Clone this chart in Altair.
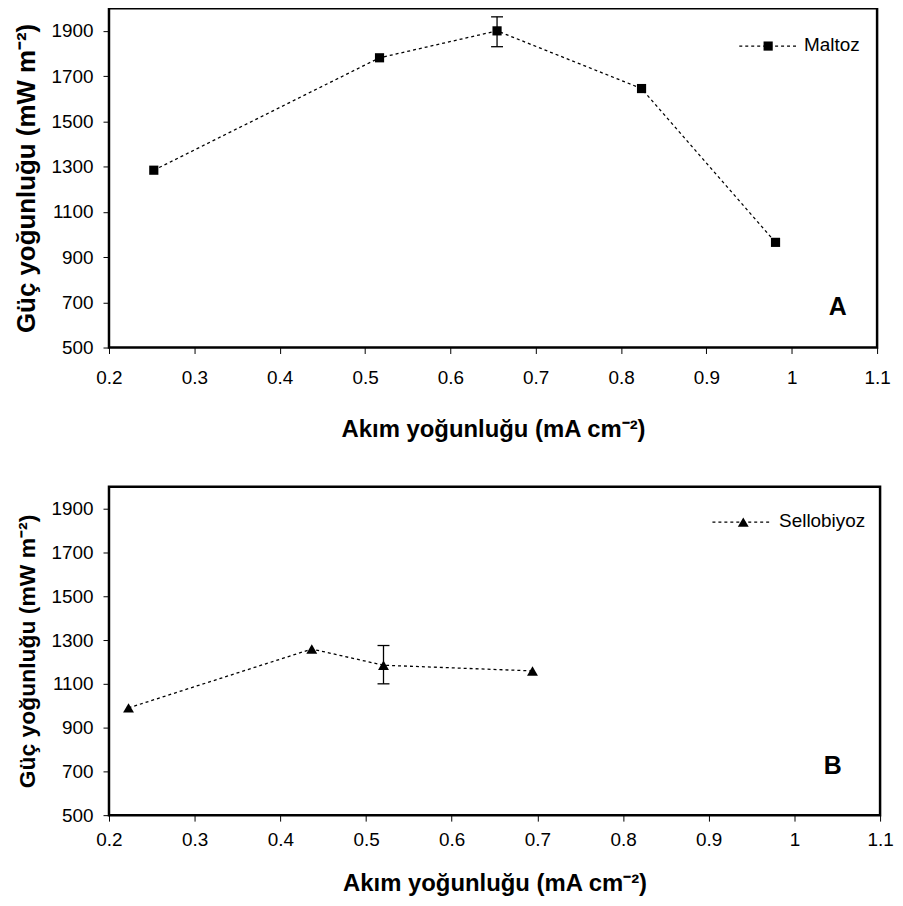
import altair as alt
import pandas as pd

# ---- data ----
maltoz_x = [0.2525, 0.517, 0.6547, 0.824, 0.981]
maltoz_y = [1284, 1781, 1900, 1645, 965]
maltoz_err_x = [0.6547]
maltoz_err_lo = [1830]
maltoz_err_hi = [1962]

sello_x = [0.2228, 0.4367, 0.5204, 0.6943]
sello_y = [990, 1259, 1185, 1159]
sello_err_x = [0.5204]
sello_err_lo = [1100]
sello_err_hi = [1275]

x_ticks = [0.2, 0.3, 0.4, 0.5, 0.6, 0.7, 0.8, 0.9, 1.0, 1.1]
y_ticks = [500, 700, 900, 1100, 1300, 1500, 1700, 1900]

x_title = "Akım yoğunluğu (mA cm⁻²)"
y_title = "Güç yoğunluğu (mW m⁻²)"

FONT = "Liberation Sans"


def panel(xs, ys, ex, elo, ehi, shape, msize, name, label, width, height,
          xlabpad, xtitlepad, ytitlesize, leg, lab):
    df = pd.DataFrame({"x": xs, "y": ys})
    err = pd.DataFrame({"x": ex, "y": elo, "y2": ehi})
    caps = pd.DataFrame({"x": ex + ex, "y": elo + ehi})
    xs_ = alt.Scale(domain=[0.2, 1.1], nice=False, zero=False)
    ys_ = alt.Scale(domain=[500, 2000], nice=False, zero=False)
    xax = alt.Axis(values=x_ticks, format="~g", title=x_title, grid=False,
                   domain=False, tickColor="black", tickSize=6, tickWidth=1,
                   labelFont=FONT, labelFontSize=19, labelColor="black",
                   labelPadding=xlabpad, titleFont=FONT, titleFontSize=24,
                   titleFontWeight="bold", titleColor="black",
                   titlePadding=xtitlepad, labelFlush=False)
    yax = alt.Axis(values=y_ticks, format="d", title=y_title, grid=False,
                   domain=False, tickColor="black", tickSize=6, tickWidth=1,
                   labelFont=FONT, labelFontSize=19, labelColor="black",
                   labelPadding=10, titleFont=FONT, titleFontSize=ytitlesize,
                   titleFontWeight="bold", titleColor="black",
                   titlePadding=12, labelFlush=False)
    X = alt.X("x:Q", scale=xs_, axis=xax)
    Y = alt.Y("y:Q", scale=ys_, axis=yax)
    line = alt.Chart(df).mark_line(color="black", strokeDash=[3, 3],
                                   strokeWidth=1.3).encode(x=X, y=Y)
    pts = alt.Chart(df).mark_point(shape=shape, filled=True, color="black",
                                   size=msize, opacity=1).encode(x="x:Q", y="y:Q")
    rule = alt.Chart(err).mark_rule(color="black", strokeWidth=1.3).encode(
        x="x:Q", y="y:Q", y2="y2:Q")
    cap = alt.Chart(caps).mark_tick(orient="horizontal", size=12, thickness=1.3,
                                    color="black", opacity=1).encode(x="x:Q", y="y:Q")
    one = pd.DataFrame({"k": [0]})
    lx0, lx1, lmx, ltx, ly, lty = leg
    legline = alt.Chart(one).mark_rule(color="black", strokeDash=[3, 3],
                                       strokeWidth=1.3).encode(
        x=alt.value(lx0), x2=alt.value(lx1), y=alt.value(ly))
    legpt = alt.Chart(one).mark_point(shape=shape, filled=True, color="black",
                                      size=msize, opacity=1).encode(
        x=alt.value(lmx), y=alt.value(ly))
    legtxt = alt.Chart(one).mark_text(align="left", baseline="middle", font=FONT,
                                      fontSize=19, color="black").encode(
        x=alt.value(ltx), y=alt.value(lty), text=alt.value(name))
    labtxt = alt.Chart(one).mark_text(align="center", baseline="middle", font=FONT,
                                      fontSize=25, fontWeight="bold",
                                      color="black").encode(
        x=alt.value(lab[0]), y=alt.value(lab[1]), text=alt.value(label))
    return alt.layer(line, rule, cap, pts, legline, legpt, legtxt, labtxt).properties(
        width=width, height=height)


a = panel(maltoz_x, maltoz_y, maltoz_err_x, maltoz_err_lo, maltoz_err_hi,
          "square", 85, "Maltoz", "A", 772, 341, 15, 30, 26,
          (633.5, 690.5, 662.5, 698.5, 38, 36.5), (732.5, 300))
b = panel(sello_x, sello_y, sello_err_x, sello_err_lo, sello_err_hi,
          "triangle-up", 120, "Sellobiyoz", "B", 775, 330, 9, 23, 23,
          (606.5, 666.5, 637.5, 673.5, 35.5, 34), (727.5, 281))

chart = alt.vconcat(a, b, spacing=42).properties(
    padding={"left": 3.5, "top": -4, "right": 0, "bottom": -4},
    background="white",
).configure_view(stroke="black", strokeWidth=2.5)

chart.save("out.html", embed_options={"renderer": "svg", "actions": False})
